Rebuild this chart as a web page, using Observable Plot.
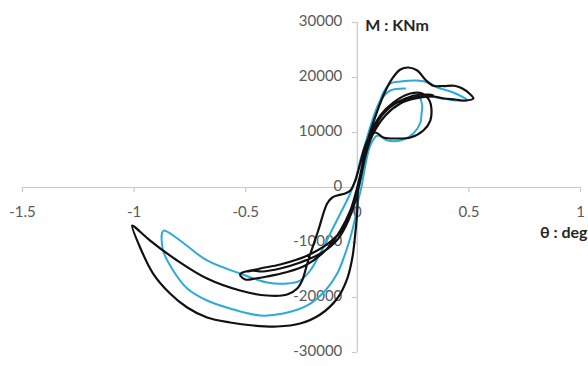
<!DOCTYPE html>
<html>
<head>
<meta charset="utf-8">
<script src="https://cdn.jsdelivr.net/npm/d3@7"></script>
<script src="https://cdn.jsdelivr.net/npm/@observablehq/plot@0.6"></script>
<style>
  html, body { margin: 0; padding: 0; background: #fff; }
  #chart { width: 588px; height: 366px; }
</style>
</head>
<body>
<div id="chart"></div>
<script>
// Axis ticks
const xTicks = [-1.5, -1, -0.5, 0, 0.5, 1];
const xTickLabels = ["-1.5", "-1", "-0.5", "0", "0.5", "1"];
const yTicks = [-30000, -20000, -10000, 0, 10000, 20000, 30000];
const yTickLabels = ["-30000", "-20000", "-10000", "0", "10000", "20000", "30000"];
const yTitle = "M : KNm";
const xTitle = "θ : deg";

// Black hysteresis curve (rotation θ in deg, moment M in kNm)
const blackTheta = [
  -0.022, 0.000, 0.022, 0.040, 0.067, 0.117, 0.157, 0.193, 0.229, 0.269,
  0.305, 0.340, 0.385, 0.435, 0.471, 0.502, 0.520, 0.484, 0.439, 0.386,
  0.341, 0.260, 0.193, 0.126, 0.067, 0.031, 0.004, 0.000, -0.009, -0.022,
  -0.045, -0.090, -0.166, -0.256, -0.359, -0.466, -0.570, -0.673, -0.762, -0.839,
  -0.915, -0.973, -1.009, -1.000, -0.928, -0.807, -0.673, -0.525, -0.404, -0.314,
  -0.269, -0.247, -0.220, -0.175, -0.135, -0.112, -0.090, -0.054, -0.031, -0.009,
  0.013, 0.036, 0.103, 0.161, 0.238, 0.291, 0.323, 0.332, 0.327, 0.296,
  0.238, 0.179, 0.117, 0.081, 0.049, 0.031, 0.013, -0.009, -0.040, -0.085,
  -0.157, -0.256, -0.345, -0.426, -0.480, -0.525, -0.502, -0.457, -0.404, -0.323,
  -0.233, -0.143, -0.076, -0.031, -0.004, 0.018, 0.045, 0.081, 0.139, 0.215,
  0.283, 0.341, 0.260, 0.170, 0.094, 0.049, 0.022, 0.000, -0.022, -0.063,
  -0.130, -0.233, -0.345, -0.435, -0.489
];
const blackM = [
  -3300, 0, 4000, 7640, 11270, 16730, 19820, 21450, 21820, 21270,
  19600, 18500, 18450, 18500, 18000, 17090, 16180, 15820, 16000, 16180,
  16550, 16180, 15270, 13090, 9450, 4910, 0, -4180, -8360, -12730,
  -16550, -20180, -23090, -24730, -25270, -25090, -24550, -23640, -21820, -19270,
  -15640, -10910, -6910, -7090, -9640, -13270, -16550, -18730, -19640, -19450,
  -18360, -16910, -13270, -7820, -2910, -1820, -1450, -1090, -550, 1270,
  4360, 7640, 13090, 15450, 17090, 17090, 15820, 14360, 12180, 10360,
  9090, 8910, 9090, 10000, 8550, 4910, 1270, -2360, -6000, -9270,
  -11820, -13640, -14730, -15270, -15090, -15820, -16730, -16550, -16180, -15450,
  -14180, -11450, -7820, -4180, -550, 3090, 7640, 11270, 14360, 16180,
  16910, 16730, 16360, 15270, 12180, 7640, 3090, -910, -4180, -7450,
  -10180, -12550, -14000, -14730, -15270
];

// Blue hysteresis curve
const blueTheta = [
  0.000, 0.013, 0.031, 0.049, 0.081, 0.117, 0.148, 0.193, 0.269, 0.318,
  0.359, 0.430, 0.493, 0.448, 0.386, 0.327, 0.283, 0.291, 0.287, 0.283,
  0.251, 0.193, 0.135, 0.090, 0.058, 0.036, 0.018, 0.004, -0.009, -0.031,
  -0.054, -0.090, -0.143, -0.224, -0.332, -0.435, -0.570, -0.673, -0.762, -0.825,
  -0.870, -0.874, -0.865, -0.794, -0.673, -0.525, -0.404, -0.314, -0.256, -0.211,
  -0.166, -0.121, -0.076, -0.040, -0.009, 0.013, 0.040, 0.067, 0.103, 0.148, 0.215
];
const blueM = [
  -1450, 1270, 4910, 8550, 13090, 17270, 18910, 19270, 19450, 19090,
  18180, 17270, 15820, 15820, 16180, 16550, 16730, 14910, 13090, 11820,
  9820, 8550, 8550, 9450, 7640, 4000, 0, -2360, -5450, -9090,
  -12000, -15640, -18730, -21450, -22910, -23270, -22000, -20550, -18360, -15090,
  -11450, -8180, -7820, -9640, -13270, -15640, -17270, -17450, -16910, -15090,
  -12000, -8360, -4730, -1820, 1270, 4910, 8550, 12180, 15820, 17640, 18000
];

const blackRows = blackTheta.map((t, i) => ({theta: t, m: blackM[i]}));
const blueRows = blueTheta.map((t, i) => ({theta: t, m: blueM[i]}));
const axisColor = "#c8c8c8";
const labelColor = "#595959";

const chart = Plot.plot({
  width: 588,
  height: 366,
  marginLeft: 22,
  marginRight: 8,
  marginTop: 22,
  marginBottom: 14,
  x: {domain: [-1.5, 1], axis: null},
  y: {domain: [-30000, 30000], axis: null},
  style: {fontFamily: "Lato, 'Open Sans', sans-serif", fontSize: "15px", color: labelColor, background: "#fff", overflow: "visible"},
  marks: [
    // axis lines
    Plot.ruleY([0], {stroke: axisColor, strokeWidth: 1.2}),
    Plot.ruleX([0], {y1: -30000, y2: 30000, stroke: axisColor, strokeWidth: 1.2}),
    // tick marks
    Plot.ruleX(xTicks, {x: d => d, y1: 0, y2: 0, insetBottom: -5, stroke: axisColor, strokeWidth: 1.2}),
    Plot.ruleY(yTicks, {y: d => d, x1: 0, x2: 0, insetLeft: -5, stroke: axisColor, strokeWidth: 1.2}),
    // tick labels
    Plot.text(xTicks, {x: d => d, y: 0, text: (d, i) => xTickLabels[i], dy: 25, fill: labelColor, fontSize: 15}),
    Plot.text(yTicks, {x: 0, y: d => d, text: (d, i) => yTickLabels[i], textAnchor: "end", dx: -15, dy: -1, fill: labelColor, fontSize: 15}),
    // curves
    Plot.line(blueRows, {x: "theta", y: "m", stroke: "#2eaad8", strokeWidth: 2, curve: "catmull-rom"}),
    Plot.line(blackRows, {x: "theta", y: "m", stroke: "#111", strokeWidth: 2.2, curve: "catmull-rom"}),
    // axis titles
    Plot.text([yTitle], {x: 0, y: 30000, text: d => d, textAnchor: "start", dx: 8, dy: 3, fontWeight: "bold", fill: "#262626", fontSize: 16}),
    Plot.text([xTitle], {x: 1, y: 0, text: d => d, textAnchor: "end", dx: 7, dy: 45, fontWeight: "bold", fill: "#262626", fontSize: 16})
  ]
});
document.getElementById("chart").appendChild(chart);
</script>
</body>
</html>
